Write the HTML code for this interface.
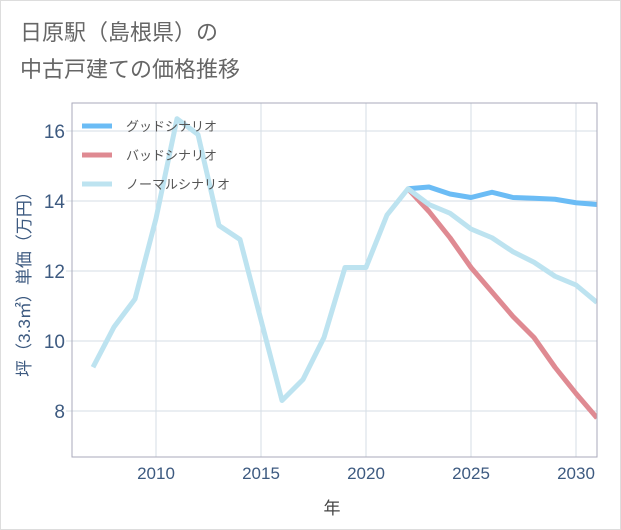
<!DOCTYPE html>
<html><head><meta charset="utf-8"><style>
body{margin:0;background:#fff;font-family:"Liberation Sans","Noto Sans CJK JP",sans-serif;}
#wrap{position:relative;width:619px;height:528px;border:1px solid #ddd;background:#fff;}
</style></head><body>
<div id="wrap">
<svg id="chart" width="621" height="530" viewBox="0 0 621 530" style="position:absolute;left:-1px;top:-1px">
<text x="20" y="40" font-size="22" fill="#666">日原駅（島根県）の</text>
<text x="20" y="77" font-size="22" fill="#666">中古戸建ての価格推移</text>
<g id="grid"></g><g id="lines"></g>
<rect x="72" y="103" width="525" height="354" fill="none" stroke="#aab" stroke-width="1"/>
<text x="332" y="514" font-size="17" fill="#444" text-anchor="middle">年</text>
<text transform="translate(30,280) rotate(-90)" font-size="17" fill="#3d5a80" text-anchor="middle">坪（3.3㎡）単価（万円）</text>
<g id="legend"></g>
</svg>
</div>
<script>
const years=[2007,2008,2009,2010,2011,2012,2013,2014,2015,2016,2017,2018,2019,2020,2021,2022,2023,2024,2025,2026,2027,2028,2029,2030,2031];
const normalVals=[9.25,10.4,11.2,13.5,16.35,15.9,13.3,12.9,10.6,8.3,8.9,10.1,12.1,12.1,13.6,14.35,13.9,13.65,13.2,12.95,12.55,12.25,11.85,11.6,11.1];
const futureYears=[2022,2023,2024,2025,2026,2027,2028,2029,2030,2031];
const goodVals=[14.35,14.4,14.2,14.1,14.25,14.1,14.08,14.05,13.95,13.9];
const badVals=[14.35,13.7,12.95,12.1,11.4,10.7,10.1,9.25,8.5,7.8];
const xTicks=[2010,2015,2020,2025,2030];
const yTicks=[8,10,12,14,16];
const NS="http://www.w3.org/2000/svg";
const X=y=>156+(y-2010)*21;
const Y=v=>411-(v-8)*35;
function mk(t,a,p){const e=document.createElementNS(NS,t);for(const k in a)e.setAttribute(k,a[k]);p.appendChild(e);return e;}
const grid=document.getElementById('grid');
xTicks.forEach(t=>{
 const l=mk('line',{x1:X(t),x2:X(t),y1:103,y2:457,stroke:'#d5dde5'},grid);
 
 
 const tx=mk('text',{x:X(t),y:479,'font-size':17,fill:'#3d5a80','text-anchor':'middle'},grid);tx.textContent=t;
 
 
});
yTicks.forEach(t=>{
 const l=mk('line',{x1:66,x2:597,y1:Y(t),y2:Y(t),stroke:'#d5dde5'},grid);
 
 
 const tx=mk('text',{x:65,y:Y(t)+7,'font-size':19,fill:'#3d5a80','text-anchor':'end'},grid);tx.textContent=t;
 
 
});
const lines=document.getElementById('lines');
const cp=mk('clipPath',{id:'cp'},lines);
mk('rect',{x:72,y:103,width:525,height:354},cp);
function series(xs,vs,color,name){
 const p=mk('polyline',{points:xs.map((x,i)=>X(x)+','+Y(vs[i])).join(' '),fill:'none',stroke:color,'stroke-width':5,'stroke-linejoin':'round','clip-path':'url(#cp)'},lines);
 
 
}
series(futureYears,goodVals,'#6bbcf5','good-scenario-line');
series(futureYears,badVals,'#df8a92','bad-scenario-line');
series(years,normalVals,'#bde3f0','normal-scenario-line');
const lg=document.getElementById('legend');
[['グッドシナリオ','#6bbcf5'],['バッドシナリオ','#df8a92'],['ノーマルシナリオ','#bde3f0']].forEach((d,i)=>{
 const y=126+i*29;
 const l=mk('line',{x1:82,x2:112,y1:y,y2:y,stroke:d[1],'stroke-width':5},lg);
 
 
 const t=mk('text',{x:126,y:y+5,'font-size':13,fill:'#555'},lg);t.textContent=d[0];
 
 
});
</script>
</body></html>
